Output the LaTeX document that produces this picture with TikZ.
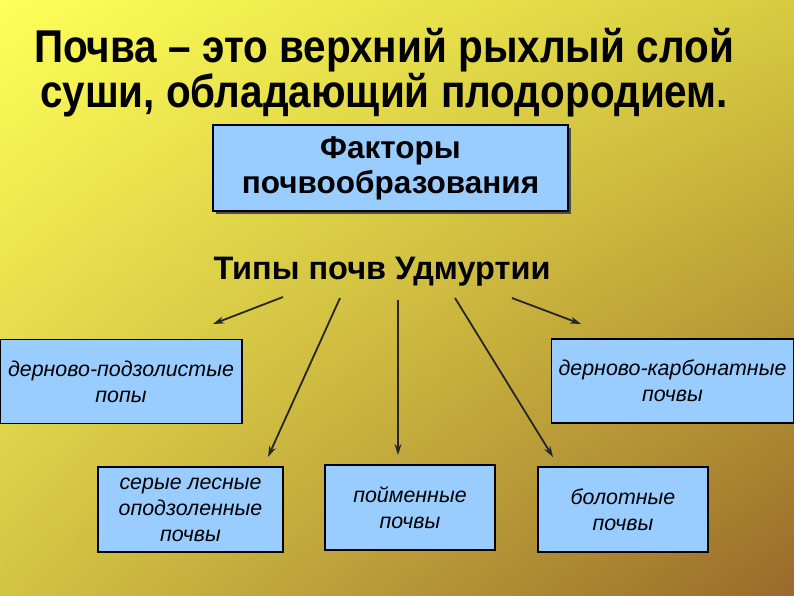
\documentclass[tikz,border=0pt]{standalone}
\usepackage{fontspec}
\setmainfont{Liberation Sans}
\newfontfamily\titlefont[FakeStretch=0.88]{Liberation Sans}
\usetikzlibrary{arrows.meta,shadings}
\definecolor{bgTL}{HTML}{FFFF58}
\definecolor{bgTR}{HTML}{D6CC40}
\definecolor{bgBL}{HTML}{D2C444}
\definecolor{bgBR}{HTML}{9A6A2A}
\definecolor{boxblue}{HTML}{99CCFF}
\begin{document}
\begin{tikzpicture}[x=1pt,y=-1pt,
  box/.style={draw=black, line width=1.2pt, fill=boxblue, inner sep=0pt, align=center,
    font=\fontsize{21.4}{26}\selectfont\itshape},
  arr/.style={draw=black!85, line width=1.8pt, -{Stealth[length=11pt,width=7pt]}}]
\useasboundingbox (0,0) rectangle (794,595);
\shade[upper left=bgTL, upper right=bgTR, lower left=bgBL, lower right=bgBR] (0,0) rectangle (794,595);

\node[font=\titlefont\bfseries\fontsize{46}{45}\selectfont, align=center] (title) at (384,73)
  {Почва – это верхний рыхлый слой\\суши, обладающий плодородием.};

\fill[black!70] (216,128) rectangle (571,214);
\node[draw=black, line width=1.2pt, fill=boxblue, minimum width=355pt, minimum height=86pt, inner sep=0pt,
  align=center, font=\bfseries\fontsize{31.5}{35}\selectfont] (factors) at (390.5,168)
  {Факторы\\почвообразования};

\node[font=\bfseries\fontsize{32.5}{36}\selectfont] (types) at (382,272) {Типы почв Удмуртии};

\node[box, minimum width=242pt, minimum height=84pt] (dp) at (121,381.5) {дерново-подзолистые\\попы};
\node[box, minimum width=242pt, minimum height=84pt] (dk) at (672.5,381) {дерново-карбонатные\\почвы};
\node[box, minimum width=185pt, minimum height=85pt] (sl) at (190.5,509.5) {серые лесные\\оподзоленные\\почвы};
\node[box, minimum width=170pt, minimum height=85pt] (pm) at (410,507.5) {пойменные\\почвы};
\node[box, minimum width=170pt, minimum height=85pt] (bl) at (623,509.5) {болотные\\почвы};

\coordinate (s1) at (283,297); \coordinate (e1) at (213,324);
\coordinate (s2) at (340,298); \coordinate (e2) at (268,457);
\coordinate (s3) at (398,300); \coordinate (e3) at (398,455);
\coordinate (s4) at (455,298); \coordinate (e4) at (553,457);
\coordinate (s5) at (512,298); \coordinate (e5) at (581,324);
\draw[arr] (s1) -- (e1);
\draw[arr] (s2) -- (e2);
\draw[arr] (s3) -- (e3);
\draw[arr] (s4) -- (e4);
\draw[arr] (s5) -- (e5);
\end{tikzpicture}
\end{document}
